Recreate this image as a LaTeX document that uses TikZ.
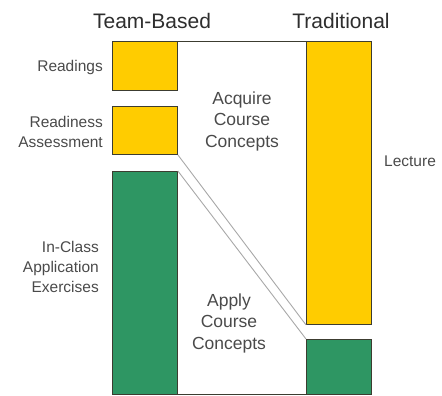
\documentclass[tikz,border=0pt]{standalone}
\usepackage{fontspec}
\setmainfont{Liberation Sans}
\definecolor{tbyellow}{HTML}{FFCC00}
\definecolor{tbgreen}{HTML}{2E9663}
\definecolor{tboutline}{HTML}{3C3C30}
\definecolor{tbtext}{HTML}{4A4A4A}
\definecolor{tbhead}{HTML}{2E2E2E}
\definecolor{tbdiag}{HTML}{A8A8A8}
\tikzset{
  blockbox/.style={draw=tboutline, line width=0.9pt, anchor=north west, inner sep=0pt, minimum width=65pt},
  yellowbox/.style={blockbox, fill=tbyellow},
  greenbox/.style={blockbox, fill=tbgreen},
  sidelabel/.style={text=tbtext, inner sep=0pt, font=\fontsize{15.5}{20}\selectfont},
  midlabel/.style={text=tbtext, inner sep=0pt, align=center, font=\fontsize{17.5}{21.5}\selectfont},
  headlabel/.style={text=tbhead, inner sep=0pt, font=\fontsize{21}{25}\selectfont},
  frameline/.style={draw=tboutline, line width=0.9pt},
  diagline/.style={draw=tbdiag, line width=0.9pt}
}
\begin{document}
\begin{tikzpicture}[x=1pt,y=-1pt]
\useasboundingbox (0,0) rectangle (442,396);
% boxes
\node[yellowbox, minimum height=49pt] (readings) at (112,41) {};
\node[yellowbox, minimum height=48pt] (readiness) at (112,106) {};
\node[greenbox, minimum height=223pt] (inclass) at (112,171) {};
\node[yellowbox, minimum height=283pt] (lecture) at (306,41) {};
\node[greenbox, minimum height=55pt] (rapply) at (306,339) {};
% connectors
\draw[frameline] (readings.north east) -- (lecture.north west);
\draw[frameline] (inclass.south east) -- (rapply.south west);
\draw[diagline] (readiness.south east) -- (lecture.south west);
\draw[diagline] (inclass.north east) -- (rapply.north west);
% headings
\node[headlabel] (tbhead) at (152,21) {Team-Based};
\node[headlabel] (trhead) at (341,21) {Traditional};
% side labels
\node[sidelabel, anchor=east] (lreadings) at (103,67) {Readings};
\node[sidelabel, anchor=east, align=right] (lreadiness) at (103,132) {Readiness\\Assessment};
\node[sidelabel, anchor=east, align=right] (linclass) at (99,267) {In-Class\\Application\\Exercises};
\node[sidelabel, anchor=west] (llecture) at (384,161) {Lecture};
% middle labels
\node[midlabel] (acquire) at (242,121) {Acquire\\Course\\Concepts};
\node[midlabel] (apply) at (229,323) {Apply\\Course\\Concepts};
\end{tikzpicture}
\end{document}
